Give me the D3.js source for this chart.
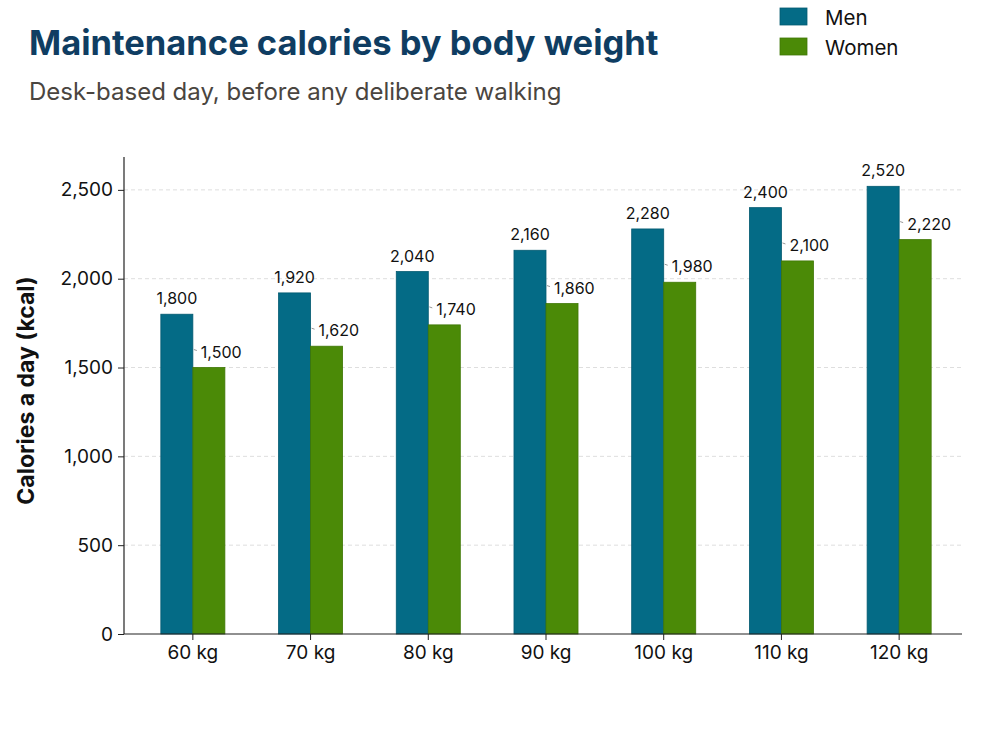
<!DOCTYPE html>
<html>
<head>
<meta charset="utf-8">
<script src="https://cdn.jsdelivr.net/npm/d3@7"></script>
<style>
  body { margin: 0; background: #fff; }
  svg { font-family: Inter, "Noto Sans", sans-serif; }
</style>
</head>
<body>
<div id="chart"></div>
<script>
// Chart data
const weights = ['60 kg', '70 kg', '80 kg', '90 kg', '100 kg', '110 kg', '120 kg'];
const menCalories = [1800, 1920, 2040, 2160, 2280, 2400, 2520];
const womenCalories = [1500, 1620, 1740, 1860, 1980, 2100, 2220];
const seriesNames = ['Men', 'Women'];
const yTicks = [0, 500, 1000, 1500, 2000, 2500];

const colors = { Men: '#046b86', Women: '#4b8a07' };
const strokes = { Men: '#035a71', Women: '#3f7705' };

const width = 1000, height = 750;
const plot = { left: 124, right: 962, top: 157, bottom: 634 };

const svg = d3.select('#chart').append('svg')
    .attr('width', width)
    .attr('height', height);

// Scales
const x = d3.scaleBand()
    .domain(weights)
    .range([134, 958])
    .paddingInner(0.456)
    .paddingOuter(0.228);

const xSub = d3.scaleBand()
    .domain(seriesNames)
    .range([0, x.bandwidth()]);

const y = d3.scaleLinear()
    .domain([0, 2685])
    .range([plot.bottom, plot.top]);

// Gridlines
svg.append('g')
    .selectAll('line')
    .data(yTicks.filter(d => d > 0))
    .join('line')
    .attr('x1', plot.left)
    .attr('x2', plot.right)
    .attr('y1', d => y(d))
    .attr('y2', d => y(d))
    .attr('stroke', '#dedede')
    .attr('stroke-dasharray', '4,3')
    .attr('stroke-width', 1);

// Bars
const rows = weights.map((w, i) => ({ weight: w, Men: menCalories[i], Women: womenCalories[i] }));

const groups = svg.append('g')
    .selectAll('g')
    .data(rows)
    .join('g')
    .attr('transform', d => `translate(${x(d.weight)},0)`);

groups.selectAll('rect')
    .data(d => seriesNames.map(s => ({ series: s, value: d[s] })))
    .join('rect')
    .attr('x', d => xSub(d.series))
    .attr('y', d => y(d.value))
    .attr('width', xSub.bandwidth())
    .attr('height', d => y(0) - y(d.value))
    .attr('fill', d => colors[d.series])
    .attr('stroke', d => strokes[d.series])
    .attr('stroke-width', 0.8);

// Men labels, centred above the bar
groups.append('text')
    .attr('x', xSub('Men') + xSub.bandwidth() / 2)
    .attr('y', d => y(d.Men) - 16)
    .attr('text-anchor', 'middle')
    .attr('dominant-baseline', 'central')
    .attr('font-size', 16)
    .attr('fill', '#111')
    .text(d => d3.format(',')(d.Men));

// Women labels, nudged up-right with a short leader
groups.append('line')
    .attr('x1', xSub('Women') + 1)
    .attr('x2', xSub('Women') + 4)
    .attr('y1', d => y(d.Women) - 18)
    .attr('y2', d => y(d.Women) - 17)
    .attr('stroke', '#999')
    .attr('stroke-width', 1);

groups.append('text')
    .attr('x', xSub('Women') + 8)
    .attr('y', d => y(d.Women) - 16)
    .attr('text-anchor', 'start')
    .attr('dominant-baseline', 'central')
    .attr('font-size', 16)
    .attr('fill', '#111')
    .text(d => d3.format(',')(d.Women));

// Axes
const yAxis = svg.append('g')
    .attr('transform', `translate(${plot.left},0)`)
    .call(d3.axisLeft(y).tickValues(yTicks).tickFormat(d3.format(',')).tickSize(6).tickPadding(5));

yAxis.select('.domain').attr('d', `M0,${plot.top}V${plot.bottom}`);

const xAxis = svg.append('g')
    .attr('transform', `translate(0,${plot.bottom})`)
    .call(d3.axisBottom(x).tickSize(6).tickPadding(6));

xAxis.select('.domain').attr('d', `M${plot.left},0H${plot.right}`);

[xAxis, yAxis].forEach(a => {
    a.select('.domain').attr('stroke', '#222').attr('stroke-width', 1.2);
    a.selectAll('.tick line').attr('stroke', '#222');
    a.selectAll('.tick text')
        .attr('font-family', 'Inter, "Noto Sans", sans-serif')
        .attr('font-size', 19)
        .attr('fill', '#111');
});

// Axis title
svg.append('text')
    .attr('transform', `translate(26,${(plot.top + plot.bottom) / 2 - 5}) rotate(-90)`)
    .attr('text-anchor', 'middle')
    .attr('dominant-baseline', 'central')
    .attr('font-size', 23)
    .attr('font-weight', 700)
    .attr('fill', '#111')
    .text('Calories a day (kcal)');

// Title and subtitle
svg.append('text')
    .attr('x', 29)
    .attr('y', 55)
    .attr('font-size', 34.5)
    .attr('font-weight', 700)
    .attr('fill', '#0f3d62')
    .text('Maintenance calories by body weight');

svg.append('text')
    .attr('x', 29)
    .attr('y', 100)
    .attr('font-size', 24)
    .attr('fill', '#4a4540')
    .text('Desk-based day, before any deliberate walking');

// Legend
const legend = svg.append('g')
    .attr('transform', 'translate(780,8)')
    .selectAll('g')
    .data(seriesNames)
    .join('g')
    .attr('transform', (d, i) => `translate(0,${i * 30})`);

legend.append('rect')
    .attr('width', 27)
    .attr('height', 17)
    .attr('fill', d => colors[d])
    .attr('stroke', d => strokes[d])
    .attr('stroke-width', 0.8);

legend.append('text')
    .attr('x', 45)
    .attr('y', 9)
    .attr('dominant-baseline', 'central')
    .attr('font-size', 20.5)
    .attr('fill', '#111')
    .text(d => d);
</script>
</body>
</html>
